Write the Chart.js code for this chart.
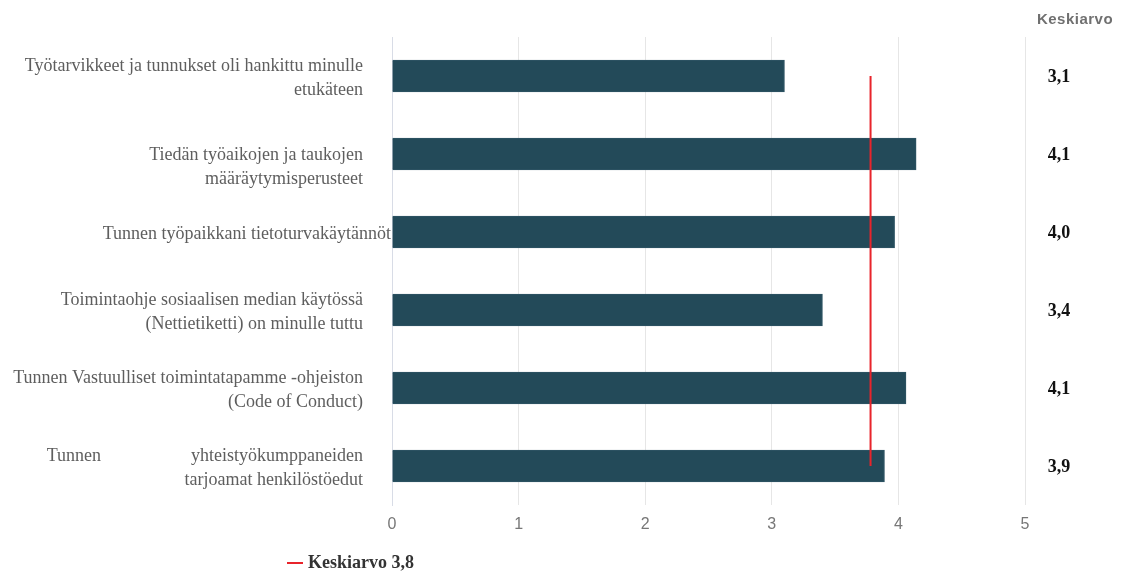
<!DOCTYPE html>
<html><head><meta charset="utf-8">
<script src="https://cdn.jsdelivr.net/npm/chart.js@4"></script>
<style>html,body{margin:0;padding:0;background:#fff}#wrap{width:1123px;height:572px;position:relative}</style>
</head><body><div id="wrap"><canvas id="c"></canvas></div>
<script>
const categories = [
  ["Työtarvikkeet ja tunnukset oli hankittu minulle", "etukäteen"],
  ["Tiedän työaikojen ja taukojen", "määräytymisperusteet"],
  ["Tunnen työpaikkani tietoturvakäytännöt"],
  ["Toimintaohje sosiaalisen median käytössä", "(Nettietiketti) on minulle tuttu"],
  ["Tunnen Vastuulliset toimintatapamme -ohjeiston", "(Code of Conduct)"],
  ["Tunnen                    yhteistyökumppaneiden", "tarjoamat henkilöstöedut"]
];
const values = [3.10, 4.14, 3.97, 3.40, 4.06, 3.89];
const meanLabels = ["3,1", "4,1", "4,0", "3,4", "4,1", "3,9"];
const overallMean = [3.78, 3.78, 3.78, 3.78, 3.78, 3.78];
const overallLabel = "Keskiarvo 3,8";
const columnTitle = "Keskiarvo";
const xMin = 0, xMax = 5, xStep = 1;

const SERIF = '"Liberation Serif", "Times New Roman", serif';
const SANS = '"Liberation Sans", Arial, sans-serif';
const labelShift = [2, 13, 2, 2, 2, 2];

const overlay = {
  id: 'overlay',
  afterDraw(chart) {
    const ctx = chart.ctx;
    const y = chart.scales.y;
    const area = chart.chartArea;
    ctx.save();
    // category labels
    ctx.font = '18px ' + SERIF;
    ctx.fillStyle = '#5e5e5e';
    ctx.textAlign = 'right';
    ctx.textBaseline = 'middle';
    categories.forEach((lines, i) => {
      const cy = y.getPixelForValue(i) + labelShift[i];
      const x = lines.length === 1 ? area.left - 1 : area.left - 29;
      const lh = 24;
      const start = cy - (lines.length - 1) * lh / 2;
      lines.forEach((ln, k) => ctx.fillText(ln, x, start + k * lh));
    });
    // column title
    ctx.font = 'bold 15px ' + SANS;
    try { ctx.letterSpacing = '0.5px'; } catch (e) {}
    ctx.fillStyle = '#707070';
    ctx.textAlign = 'center';
    ctx.fillText(columnTitle, 1075, 20);
    try { ctx.letterSpacing = '0px'; } catch (e) {}
    // mean values
    ctx.font = 'bold 18px ' + SERIF;
    ctx.fillStyle = '#111';
    meanLabels.forEach((t, i) => {
      ctx.fillText(t, 1059, y.getPixelForValue(i) + 1);
    });
    // legend
    ctx.strokeStyle = '#e8242b';
    ctx.lineWidth = 2;
    ctx.beginPath();
    ctx.moveTo(287, 563); ctx.lineTo(303, 563); ctx.stroke();
    ctx.font = 'bold 18px ' + SERIF;
    ctx.fillStyle = '#333';
    ctx.textAlign = 'left';
    ctx.fillText(overallLabel, 308, 563);
    ctx.restore();
  }
};

new Chart(document.getElementById('c'), {
  data: {
    labels: categories.map(l => l.join(' ')),
    datasets: [
      {
        type: 'bar',
        label: 'Arvo',
        data: values,
        backgroundColor: '#234a59',
        borderColor: '#2f5564',
        borderWidth: 1,
        barThickness: 32,
        order: 2
      },
      {
        type: 'line',
        label: overallLabel,
        indexAxis: 'y',
        data: overallMean,
        borderColor: '#e8242b',
        borderWidth: 2,
        pointRadius: 0,
        fill: false,
        order: 1
      }
    ]
  },
  options: {
    indexAxis: 'y',
    responsive: true,
    maintainAspectRatio: false,
    animation: false,
    layout: { padding: { top: 37, right: 98, left: 0, bottom: 0 } },
    plugins: { legend: { display: false }, tooltip: { enabled: false } },
    scales: {
      x: {
        type: 'linear',
        min: xMin, max: xMax,
        ticks: { stepSize: xStep, color: '#777', font: { family: SANS, size: 16 }, padding: 10 },
        grid: { color: '#e6e6e6', drawTicks: false },
        border: { display: false },
        afterFit(s) { s.height = 67; }
      },
      y: {
        type: 'category',
        offset: true,
        ticks: { display: false },
        grid: { display: false },
        border: { display: true, color: '#d8dce6' },
        afterFit(s) { s.width = 392; }
      }
    }
  },
  plugins: [overlay]
});
</script>
</body></html>
